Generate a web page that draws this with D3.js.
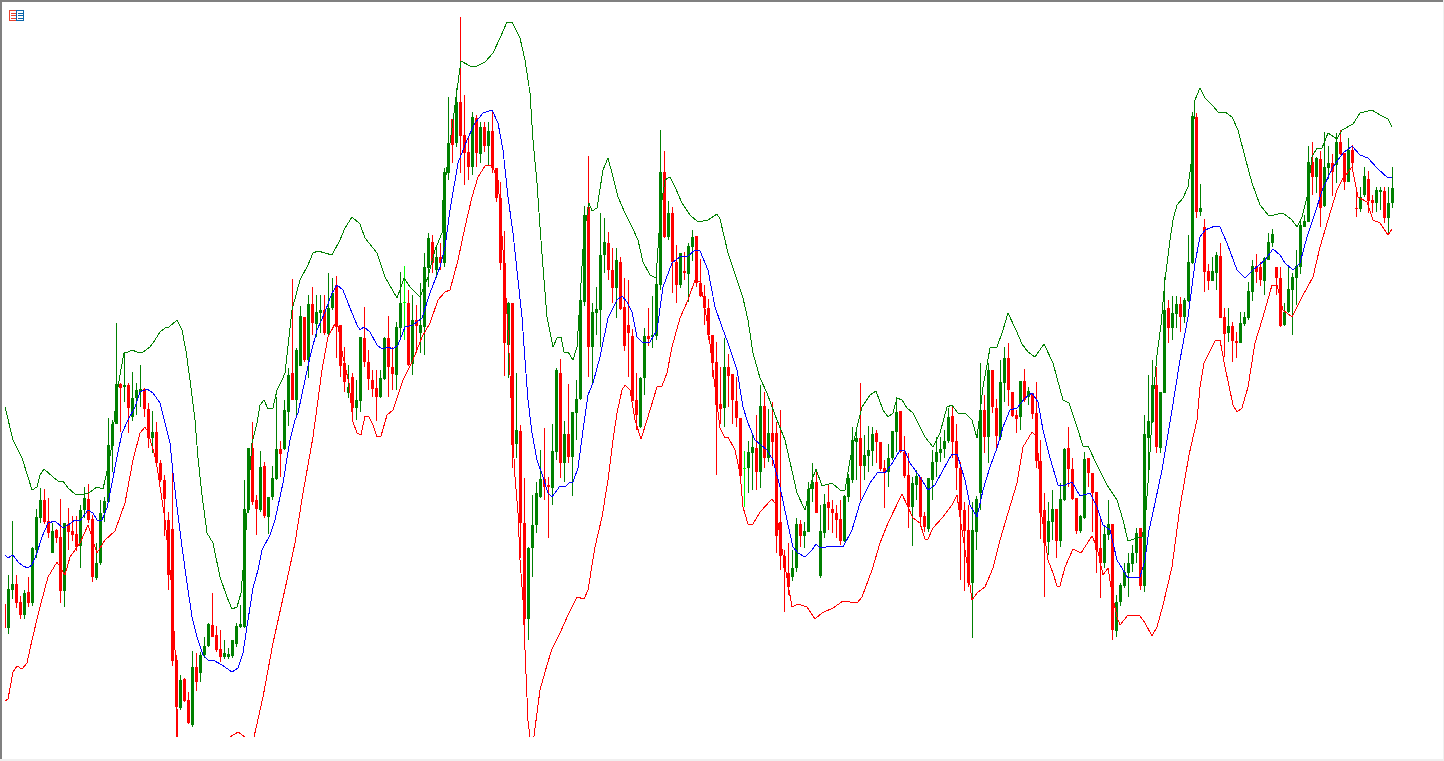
<!DOCTYPE html>
<html>
<head>
<meta charset="utf-8">
<title>Candlestick chart with bands</title>
<script src="https://d3js.org/d3.v7.min.js"></script>
<style>html,body{margin:0;padding:0;background:#fff;overflow:hidden}svg{display:block}</style>
</head>
<body>
<div id="chart"></div>
<script>
// One bar every 4 time units, first bar at t = 4.
const opens = [
157,133,171,177,159,146,169,158,211,243,261,240,
208,231,224,170,237,230,227,215,251,262,242,183,
198,248,259,315,337,377,374,376,344,363,369,372,
352,323,329,298,281,241,232,101,53,82,61,36,
94,88,106,115,136,126,112,104,104,105,117,134,
134,251,313,261,251,295,244,264,282,312,312,349,
388,361,395,444,401,457,437,448,451,427,453,476,
436,398,368,384,353,360,423,399,381,373,364,382,
423,394,386,433,459,458,397,441,428,434,493,519,
491,504,498,588,642,618,659,626,609,594,643,607,
634,615,630,593,563,498,416,458,317,330,238,142,
213,236,264,282,276,273,309,388,298,327,304,348,
362,459,554,414,448,451,506,518,491,473,499,454,
436,425,361,334,383,425,424,425,476,589,524,548,
499,476,490,487,514,525,478,465,453,426,399,357,
353,394,387,360,343,293,293,308,313,289,355,303,
328,328,239,205,188,184,193,237,225,229,272,279,
185,228,259,252,248,242,220,264,281,319,323,295,
305,310,328,319,293,289,303,329,350,309,286,254,
276,284,245,232,281,299,308,312,320,345,320,293,
251,231,178,229,268,351,324,391,353,324,378,403,
369,346,344,380,364,368,348,300,251,219,239,252,
220,261,313,292,263,230,243,303,288,269,213,198,
226,237,130,159,175,188,197,208,233,175,323,339,
376,313,368,453,433,447,457,444,460,498,644,549,
534,490,480,488,505,444,428,435,420,418,437,443,
469,495,494,480,501,518,494,483,436,449,471,483,
494,534,539,599,584,602,555,593,598,596,619,608,
579,611,553,552,566,582,561,558,569,570,543,558
];
const highs = [
157,186,240,186,165,171,184,214,252,273,272,263,
238,232,262,238,253,245,245,256,274,277,246,218,
261,264,343,341,438,378,408,378,389,378,396,373,
358,350,339,301,286,249,288,106,86,83,69,110,
108,109,124,138,168,135,131,121,113,121,138,156,
281,313,339,266,310,299,264,295,364,320,361,393,
482,413,455,444,466,474,466,466,466,488,483,485,
436,414,396,388,381,424,454,411,391,391,391,424,
445,414,439,489,495,471,466,456,478,508,528,526,
513,518,593,664,642,673,744,666,625,649,646,639,
639,639,650,593,579,530,459,458,388,336,283,214,
266,279,311,333,284,337,393,402,340,377,349,381,
471,555,605,458,474,548,543,529,513,513,504,483,
481,432,388,384,433,453,465,483,631,610,560,554,
516,508,509,518,531,525,502,476,462,426,419,394,
423,407,387,384,343,310,320,328,346,376,369,352,
359,339,351,211,218,211,243,241,239,279,298,292,
256,267,276,261,256,261,266,287,334,331,378,326,
335,334,331,319,301,317,330,364,350,325,308,284,
291,284,249,283,311,324,324,331,353,356,337,299,
259,256,259,265,398,366,398,391,362,401,414,418,
369,351,380,392,374,368,379,321,268,259,271,252,
278,313,334,303,263,246,309,303,288,269,244,236,
261,237,166,178,198,208,216,233,233,346,386,401,
394,369,484,461,465,465,464,463,526,649,648,577,
542,497,504,509,518,453,453,439,429,449,449,479,
501,507,499,504,528,532,494,494,458,496,488,511,
541,546,615,619,604,610,629,615,607,628,631,608,
623,616,574,574,594,590,566,574,574,574,574,594
];
const lows = [
133,127,162,153,142,142,154,155,203,238,237,223,
208,218,158,154,211,220,210,193,243,238,179,181,
196,239,258,289,337,329,359,328,340,346,354,344,
313,308,296,279,225,171,95,24,51,59,37,34,
70,79,103,114,124,109,99,102,102,103,114,133,
133,248,256,226,249,243,227,261,281,284,311,335,
361,345,395,399,383,426,424,428,426,424,451,403,
384,369,363,339,341,349,394,371,364,340,363,381,
364,371,371,424,421,395,386,408,408,406,474,488,
483,491,494,581,598,614,588,576,581,586,594,598,
609,596,588,559,491,385,383,293,303,203,111,121,
184,228,263,261,223,256,301,283,279,298,265,321,
361,455,384,376,426,414,488,481,458,443,451,410,
384,360,331,333,366,415,413,421,471,523,521,468,
458,473,481,459,500,474,464,436,421,384,286,337,
334,354,337,334,285,254,268,271,271,273,293,299,
295,208,191,149,166,180,189,214,213,229,259,248,
183,223,231,228,223,216,219,259,278,281,261,281,
289,295,298,290,253,274,301,309,308,283,233,215,
261,234,229,229,261,284,299,303,318,303,271,181,
170,174,123,211,251,308,298,348,313,321,359,355,
344,328,331,359,356,342,293,222,164,206,221,203,
214,260,274,261,227,228,242,274,229,188,163,193,
221,121,124,155,173,164,189,198,171,169,289,338,
308,308,368,418,421,433,429,438,459,497,543,545,
469,471,480,471,443,404,419,399,403,418,435,441,
460,478,475,466,501,514,466,434,435,448,426,456,
487,534,539,566,568,534,554,582,565,578,606,571,
579,592,544,549,564,548,548,549,551,538,526,553
];
const closes = [
133,172,177,158,146,168,158,213,244,261,239,228,
230,223,170,238,229,226,214,251,263,241,184,198,
248,260,316,337,377,373,376,353,363,371,372,352,
323,329,298,281,262,186,100,54,81,60,38,94,
79,106,115,137,124,111,104,108,107,121,135,137,
252,313,259,252,294,245,264,283,312,307,351,386,
361,411,445,401,457,438,449,451,428,453,468,434,
395,379,374,353,361,424,399,382,372,364,383,423,
394,387,434,458,459,396,441,435,436,494,523,498,
504,498,589,618,616,659,625,608,594,644,608,634,
615,630,593,563,498,418,458,316,331,238,142,213,
236,268,282,274,274,310,391,298,327,304,349,362,
461,546,414,449,452,506,519,491,473,501,452,415,
428,360,346,383,425,422,426,477,589,524,548,499,
476,508,488,515,524,478,465,453,426,398,356,352,
394,385,361,343,285,293,309,314,289,355,303,328,
319,225,205,193,174,193,237,225,230,272,279,248,
230,257,253,248,241,220,265,283,321,323,295,306,
311,327,319,292,289,303,330,349,309,285,254,278,
285,244,234,283,299,309,312,320,344,319,293,251,
230,178,231,262,351,324,391,354,325,379,403,371,
345,342,380,361,370,347,300,248,218,240,252,220,
262,312,292,262,230,245,302,288,268,211,198,227,
237,131,159,176,189,198,208,228,175,327,340,376,
314,369,451,433,448,457,444,461,499,645,549,553,
489,480,490,506,443,427,435,420,418,438,444,470,
495,489,481,503,519,527,483,435,449,472,484,495,
536,540,599,584,603,553,594,598,589,619,607,579,
611,598,552,564,585,560,558,571,571,543,558,573
];
// Indicator readings as [t, price].
const upperBand = [[5,354],[13,321],[22,303],[28,284],[32,271],[37,274],[40,286],[44,292],[53,284],[58,280],[63,280],[68,273],[75,267],[83,266],[90,269],[97,274],[103,272],[108,294],[112,316],[116,361],[120,386],[124,408],[128,409],[132,411],[137,409],[143,409],[150,414],[155,421],[160,429],[165,433],[169,434],[177,441],[182,431],[186,410],[190,381],[195,341],[198,303],[202,266],[207,228],[213,218],[220,184],[227,164],[232,152],[237,154],[241,168],[245,214],[248,264],[252,318],[257,338],[260,356],[264,361],[268,352],[273,353],[277,371],[282,381],[285,388],[292,451],[300,481],[308,496],[313,508],[318,510],[325,508],[332,506],[340,521],[345,533],[352,544],[360,537],[365,523],[377,508],[385,484],[397,463],[401,474],[404,483],[410,474],[420,464],[428,484],[435,511],[442,528],[443,561],[450,618],[457,671],[461,700],[470,695],[477,695],[485,699],[493,708],[500,723],[507,739],[512,739],[520,723],[525,701],[530,668],[533,621],[537,578],[540,534],[543,494],[547,444],[553,414],[557,423],[561,424],[564,409],[568,409],[573,401],[577,414],[580,461],[584,528],[589,558],[592,550],[597,553],[603,591],[608,603],[613,584],[618,564],[625,548],[632,534],[638,521],[643,499],[650,486],[656,483],[659,528],[662,561],[665,581],[670,584],[675,574],[682,558],[690,546],[698,539],[708,541],[717,547],[720,542],[728,508],[737,481],[743,463],[748,441],[753,408],[760,383],[767,368],[775,346],[785,321],[797,268],[805,251],[812,281],[816,292],[822,275],[832,278],[840,271],[845,271],[850,301],[857,334],[862,354],[870,366],[876,370],[883,351],[888,344],[893,348],[897,363],[902,361],[907,353],[913,348],[920,334],[925,324],[933,314],[940,328],[947,354],[952,356],[958,348],[965,348],[972,341],[977,323],[983,374],[990,413],[997,414],[1003,431],[1008,448],[1016,431],[1022,417],[1028,409],[1035,404],[1044,417],[1053,398],[1063,361],[1069,358],[1077,334],[1083,315],[1088,315],[1097,296],[1107,276],[1117,261],[1123,241],[1128,220],[1137,223],[1142,224],[1145,238],[1149,291],[1153,361],[1157,406],[1161,436],[1165,481],[1170,521],[1173,541],[1177,556],[1183,563],[1188,574],[1192,604],[1195,661],[1200,673],[1205,663],[1212,656],[1219,648],[1225,649],[1232,644],[1238,631],[1245,604],[1252,578],[1260,556],[1269,545],[1283,548],[1292,541],[1297,534],[1302,544],[1307,564],[1312,604],[1317,613],[1322,613],[1328,628],[1337,622],[1342,631],[1353,637],[1360,648],[1372,651],[1380,646],[1388,642],[1392,634]];
const middleBand = [[5,206],[8,203],[13,206],[18,199],[23,195],[28,193],[32,196],[37,208],[42,224],[48,238],[55,240],[63,233],[68,236],[75,241],[80,240],[88,251],[93,248],[97,241],[102,241],[107,253],[112,278],[117,304],[122,328],[128,341],[135,354],[140,369],[147,372],[153,368],[160,358],[165,338],[170,318],[173,288],[177,254],[182,214],[187,178],[192,144],[197,124],[203,106],[208,101],[213,101],[222,96],[232,89],[238,93],[243,108],[248,141],[253,173],[258,191],[262,211],[270,226],[275,241],[283,278],[290,321],[295,341],[298,348],[305,381],[310,404],[317,431],[325,449],[332,468],[337,476],[343,471],[350,453],[357,436],[360,431],[364,434],[370,429],[377,416],[382,412],[388,414],[393,412],[398,416],[405,434],[413,436],[422,443],[430,468],[440,494],[445,514],[450,551],[458,598],[467,621],[475,638],[483,648],[492,651],[498,638],[503,611],[508,564],[513,528],[518,481],[522,444],[525,401],[528,361],[532,328],[537,301],[543,284],[548,268],[552,264],[560,275],[565,274],[570,279],[573,279],[578,293],[583,331],[588,366],[593,378],[600,404],[608,443],[617,461],[622,465],[627,459],[632,449],[637,424],[643,418],[650,419],[657,431],[663,474],[672,498],[680,504],[688,505],[695,511],[700,510],[708,491],[715,454],[722,434],[728,418],[737,391],[743,354],[748,338],[755,321],[767,311],[773,301],[780,274],[787,241],[793,214],[798,208],[805,204],[812,211],[816,217],[820,213],[833,215],[843,214],[852,231],[860,258],[870,278],[878,289],[885,288],[893,299],[900,311],[905,310],[910,298],[920,284],[928,271],[935,276],[943,291],[952,307],[957,307],[965,281],[970,256],[977,244],[983,271],[990,294],[997,313],[1003,334],[1010,351],[1017,353],[1025,363],[1032,368],[1038,359],[1043,331],[1050,303],[1058,276],[1065,276],[1072,279],[1080,265],[1090,268],[1097,254],[1103,236],[1110,231],[1117,201],[1128,183],[1140,184],[1145,201],[1149,231],[1152,244],[1162,291],[1172,351],[1180,401],[1188,444],[1195,498],[1200,524],[1205,531],[1215,535],[1220,534],[1227,518],[1237,491],[1245,483],[1253,491],[1265,501],[1273,512],[1280,506],[1285,498],[1293,491],[1300,498],[1307,524],[1315,548],[1323,573],[1333,594],[1343,608],[1352,615],[1360,606],[1368,603],[1377,593],[1388,583],[1392,584]];
const lowerBand = [[5,60],[8,62],[13,89],[17,95],[22,92],[27,98],[32,121],[40,154],[48,184],[57,199],[65,186],[70,204],[80,218],[88,236],[97,208],[105,221],[115,230],[125,258],[133,301],[140,328],[145,334],[148,329],[156,301],[165,241],[172,171],[175,111],[178,24],[185,-30],[210,-30],[226,5],[230,24],[238,29],[245,24],[250,16],[254,24],[263,64],[273,118],[287,181],[295,218],[303,268],[313,324],[322,391],[328,424],[337,441],[343,404],[349,378],[353,339],[357,328],[361,326],[365,345],[369,344],[373,336],[377,324],[381,325],[387,346],[393,351],[403,381],[413,401],[422,424],[430,438],[438,461],[445,469],[450,471],[458,501],[465,534],[472,564],[478,584],[485,595],[492,596],[498,581],[503,511],[508,431],[512,341],[515,284],[518,248],[520,201],[523,161],[525,111],[528,40],[531,15],[534,25],[540,71],[547,96],[552,112],[560,128],[568,146],[577,164],[584,162],[588,171],[595,214],[602,244],[608,281],[613,321],[617,348],[622,371],[625,376],[630,371],[635,341],[641,322],[647,341],[657,374],[662,375],[667,388],[672,414],[680,443],[688,461],[695,481],[700,479],[703,464],[708,434],[715,374],[720,333],[725,323],[728,324],[735,311],[740,288],[743,254],[748,237],[753,237],[760,249],[772,262],[775,258],[780,224],[787,183],[792,154],[798,157],[807,154],[815,142],[822,148],[833,153],[843,160],[857,158],[862,164],[872,191],[880,218],[888,238],[902,267],[907,256],[913,243],[920,238],[925,222],[928,222],[933,233],[943,244],[952,256],[957,266],[960,244],[967,198],[972,161],[978,169],[985,174],[993,193],[1000,221],[1008,248],[1017,278],[1023,314],[1032,329],[1037,324],[1042,244],[1048,201],[1053,188],[1057,175],[1060,175],[1065,194],[1073,212],[1081,208],[1092,225],[1097,214],[1103,186],[1108,193],[1112,168],[1117,144],[1120,136],[1128,146],[1140,145],[1145,138],[1152,125],[1157,134],[1163,156],[1172,194],[1180,254],[1189,306],[1197,341],[1200,374],[1204,398],[1215,420],[1220,421],[1225,394],[1233,356],[1237,349],[1242,353],[1248,374],[1255,418],[1263,444],[1272,476],[1277,476],[1283,451],[1292,444],[1302,464],[1313,484],[1320,514],[1328,541],[1337,571],[1342,581],[1352,594],[1358,564],[1367,559],[1373,541],[1380,538],[1388,526],[1392,532]];

const W = 1444, H = 761;
const barStep = 4;
const barCount = Math.min(opens.length, highs.length, lows.length, closes.length);
const upColor = "#008000", downColor = "#ff0000", dojiColor = "#00ff00";

const x = d3.scaleLinear().domain([0, W]).range([0, W]);
const y = d3.scaleLinear().domain([0, H]).range([H, 0]);

const svg = d3.select("#chart").append("svg").attr("width", W).attr("height", H);
svg.append("rect").attr("width", W).attr("height", H).attr("fill", "#fff");

svg.append("defs").append("clipPath").attr("id", "plot").append("rect")
  .attr("x", 5).attr("y", 2).attr("width", 1395).attr("height", 735);

const plot = svg.append("g").attr("clip-path", "url(#plot)").attr("shape-rendering", "crispEdges");

const bars = d3.range(barCount).map(i => ({
  t: barStep + barStep * i, o: opens[i], h: highs[i], l: lows[i], c: closes[i]
}));
const colorOf = d => d.c > d.o ? upColor : d.c < d.o ? downColor : dojiColor;

plot.append("g").selectAll("rect").data(bars).join("rect")
  .attr("x", d => x(d.t)).attr("width", 1)
  .attr("y", d => y(d.h)).attr("height", d => y(d.l) - y(d.h))
  .attr("fill", colorOf);
plot.append("g").selectAll("rect").data(bars).join("rect")
  .attr("x", d => x(d.t) - 1).attr("width", 3)
  .attr("y", d => y(Math.max(d.o, d.c)))
  .attr("height", d => Math.max(1, Math.abs(y(d.o) - y(d.c))))
  .attr("fill", colorOf);

const line = d3.line().x(d => x(d[0])).y(d => y(d[1])).curve(d3.curveLinear);
[[upperBand, upColor], [middleBand, "#0000ff"], [lowerBand, downColor]].forEach(([band, color]) => {
  plot.append("path").datum(band).attr("d", line)
    .attr("fill", "none").attr("stroke", color).attr("stroke-width", 1);
});

// Window frame
svg.append("rect").attr("x", 0).attr("y", 0).attr("width", W).attr("height", 2).attr("fill", "#808080");
svg.append("rect").attr("x", 0).attr("y", 0).attr("width", 2).attr("height", H).attr("fill", "#808080");
svg.append("rect").attr("x", W - 1).attr("y", 0).attr("width", 1).attr("height", H).attr("fill", "#f0f0f0");
svg.append("rect").attr("x", 0).attr("y", H - 2).attr("width", W).attr("height", 2).attr("fill", "#f0f0f0");

// Chart window icon
const icon = svg.append("g").attr("shape-rendering", "crispEdges");
icon.append("rect").attr("x", 9.5).attr("y", 10.5).attr("width", 7).attr("height", 10).attr("fill", "#fff").attr("stroke", "#e8402c");
icon.append("rect").attr("x", 16.5).attr("y", 10.5).attr("width", 7).attr("height", 10).attr("fill", "#fff").attr("stroke", "#0a64a8");
[13, 15, 18].forEach(v => {
  icon.append("rect").attr("x", 11).attr("y", v - 0.5 + 0.5).attr("width", 5).attr("height", 1).attr("fill", "#e8402c");
  icon.append("rect").attr("x", 18).attr("y", v).attr("width", 5).attr("height", 1).attr("fill", "#0a64a8");
});
</script>
</body>
</html>
